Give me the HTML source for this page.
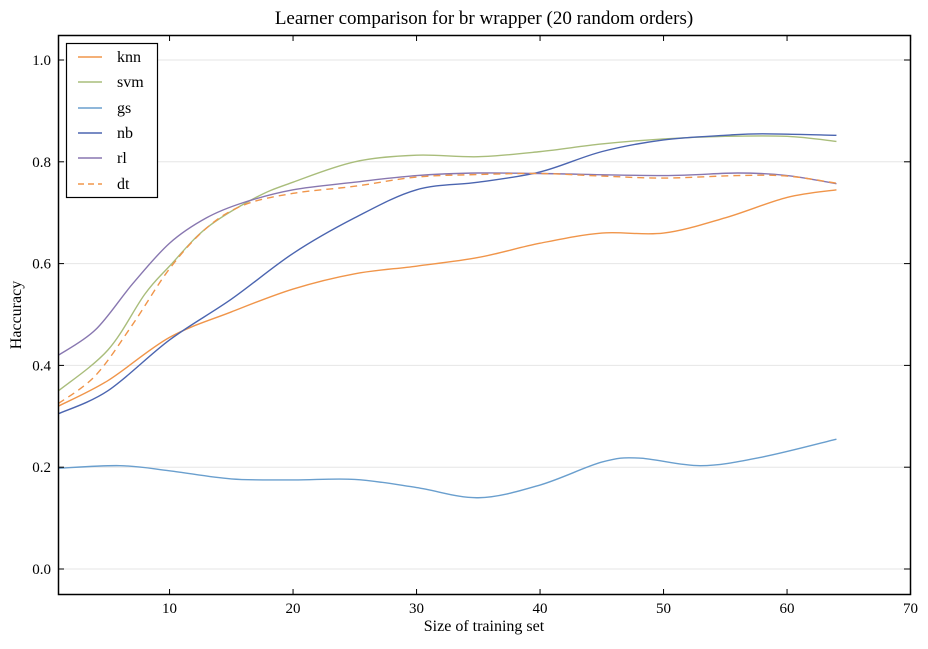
<!DOCTYPE html>
<html><head><meta charset="utf-8"><style>
body{margin:0;background:#fff}
svg text{font-family:"Liberation Serif",serif;fill:#000}
</style></head><body>
<svg id="s" width="928" height="644" xmlns="http://www.w3.org/2000/svg">
<rect width="928" height="644" fill="#fff"/>
<g id="grid" stroke="#e6e6e6" stroke-width="1"></g>
<g id="lines" fill="none" stroke-width="1.4"></g>
<rect x="58.5" y="35.5" width="852" height="559" fill="none" stroke="#000" stroke-width="1.5"/>
<g id="ticks" stroke="#000" stroke-width="1"></g>
<g id="labels" font-size="15"></g>
<text x="484" y="24" font-size="19" text-anchor="middle">Learner comparison for br wrapper (20 random orders)</text>
<text x="484" y="631" font-size="16" text-anchor="middle">Size of training set</text>
<text transform="translate(21,315) rotate(-90)" font-size="16" text-anchor="middle">Haccuracy</text>
<rect x="66.5" y="43.5" width="91" height="154" fill="#fff" stroke="#000" stroke-width="1.2"/>
<g font-size="16" stroke-width="1.4">
<line x1="78" y1="57" x2="102" y2="57" stroke="#f0954a"/><text x="117" y="62" stroke="none">knn</text>
<line x1="78" y1="82" x2="102" y2="82" stroke="#a9bd7b"/><text x="117" y="87" stroke="none">svm</text>
<line x1="78" y1="108" x2="102" y2="108" stroke="#6a9fce"/><text x="117" y="113" stroke="none">gs</text>
<line x1="78" y1="133" x2="102" y2="133" stroke="#4b65b0"/><text x="117" y="138" stroke="none">nb</text>
<line x1="78" y1="158" x2="102" y2="158" stroke="#8877b0"/><text x="117" y="163" stroke="none">rl</text>
<line x1="78" y1="184" x2="102" y2="184" stroke="#f0954a" stroke-dasharray="6,4"/><text x="117" y="189" stroke="none">dt</text>
</g>
</svg>
<script>
var X=v=>58.4+(v-1)*12.35, Y=v=>569-v*509;
var ns="http://www.w3.org/2000/svg";
function el(p,t,a,txt){var e=document.createElementNS(ns,t);for(var k in a)e.setAttribute(k,a[k]);if(txt)e.textContent=txt;document.getElementById(p).appendChild(e);}
for(var i=0;i<=5;i++){var v=i*0.2,y=Y(v);el('grid','line',{x1:58,x2:910,y1:y,y2:y});
el('ticks','line',{x1:58,x2:64,y1:y,y2:y});el('ticks','line',{x1:904,x2:910,y1:y,y2:y});
el('labels','text',{x:51,y:y+5,'text-anchor':'end'},v.toFixed(1));}
for(var t=10;t<=70;t+=10){var x=X(t);el('ticks','line',{x1:x,x2:x,y1:595,y2:589});el('ticks','line',{x1:x,x2:x,y1:35,y2:41});
el('labels','text',{x:x,y:613,'text-anchor':'middle'},String(t));}
var D={
knn:[[1,.32],[5,.37],[10,.455],[15,.505],[20,.55],[25,.58],[30,.595],[35,.612],[40,.64],[45,.66],[50,.66],[55,.69],[60,.73],[64,.745]],
svm:[[1,.35],[5,.43],[8,.54],[10,.595],[13,.67],[17,.73],[20,.76],[25,.80],[30,.813],[35,.81],[40,.82],[45,.835],[50,.845],[55,.85],[60,.85],[64,.84]],
gs:[[1,.198],[6,.203],[10,.193],[15,.177],[20,.175],[25,.176],[30,.16],[35,.14],[40,.165],[45,.21],[48,.218],[53,.203],[58,.22],[64,.255]],
nb:[[1,.305],[5,.35],[10,.45],[15,.53],[20,.62],[25,.69],[30,.745],[35,.76],[40,.78],[45,.82],[50,.843],[55,.852],[58,.855],[64,.852]],
rl:[[1,.42],[4,.47],[7,.56],[10,.64],[13,.69],[16,.72],[20,.745],[25,.76],[30,.773],[35,.778],[40,.777],[50,.773],[56,.778],[60,.773],[64,.757]],
dt:[[1,.325],[4,.38],[7,.48],[10,.59],[13,.67],[16,.715],[20,.738],[25,.752],[30,.77],[35,.775],[40,.777],[45,.772],[50,.768],[56,.773],[60,.772],[64,.758]]};
var C={knn:'#f0954a',svm:'#a9bd7b',gs:'#6a9fce',nb:'#4b65b0',rl:'#8877b0',dt:'#f0954a'};
function path(pts){var p=pts.map(a=>[X(a[0]),Y(a[1])]);var d='M'+p[0][0]+','+p[0][1];
for(var i=0;i<p.length-1;i++){var p0=p[i-1]||p[i],p1=p[i],p2=p[i+1],p3=p[i+2]||p2;
d+=' C'+(p1[0]+(p2[0]-p0[0])/6)+','+(p1[1]+(p2[1]-p0[1])/6)+' '+(p2[0]-(p3[0]-p1[0])/6)+','+(p2[1]-(p3[1]-p1[1])/6)+' '+p2[0]+','+p2[1];}return d;}
['gs','knn','svm','nb','rl','dt'].forEach(k=>{var a={d:path(D[k]),stroke:C[k]};if(k=='dt')a['stroke-dasharray']='7,5';el('lines','path',a);});
</script>
</body></html>
